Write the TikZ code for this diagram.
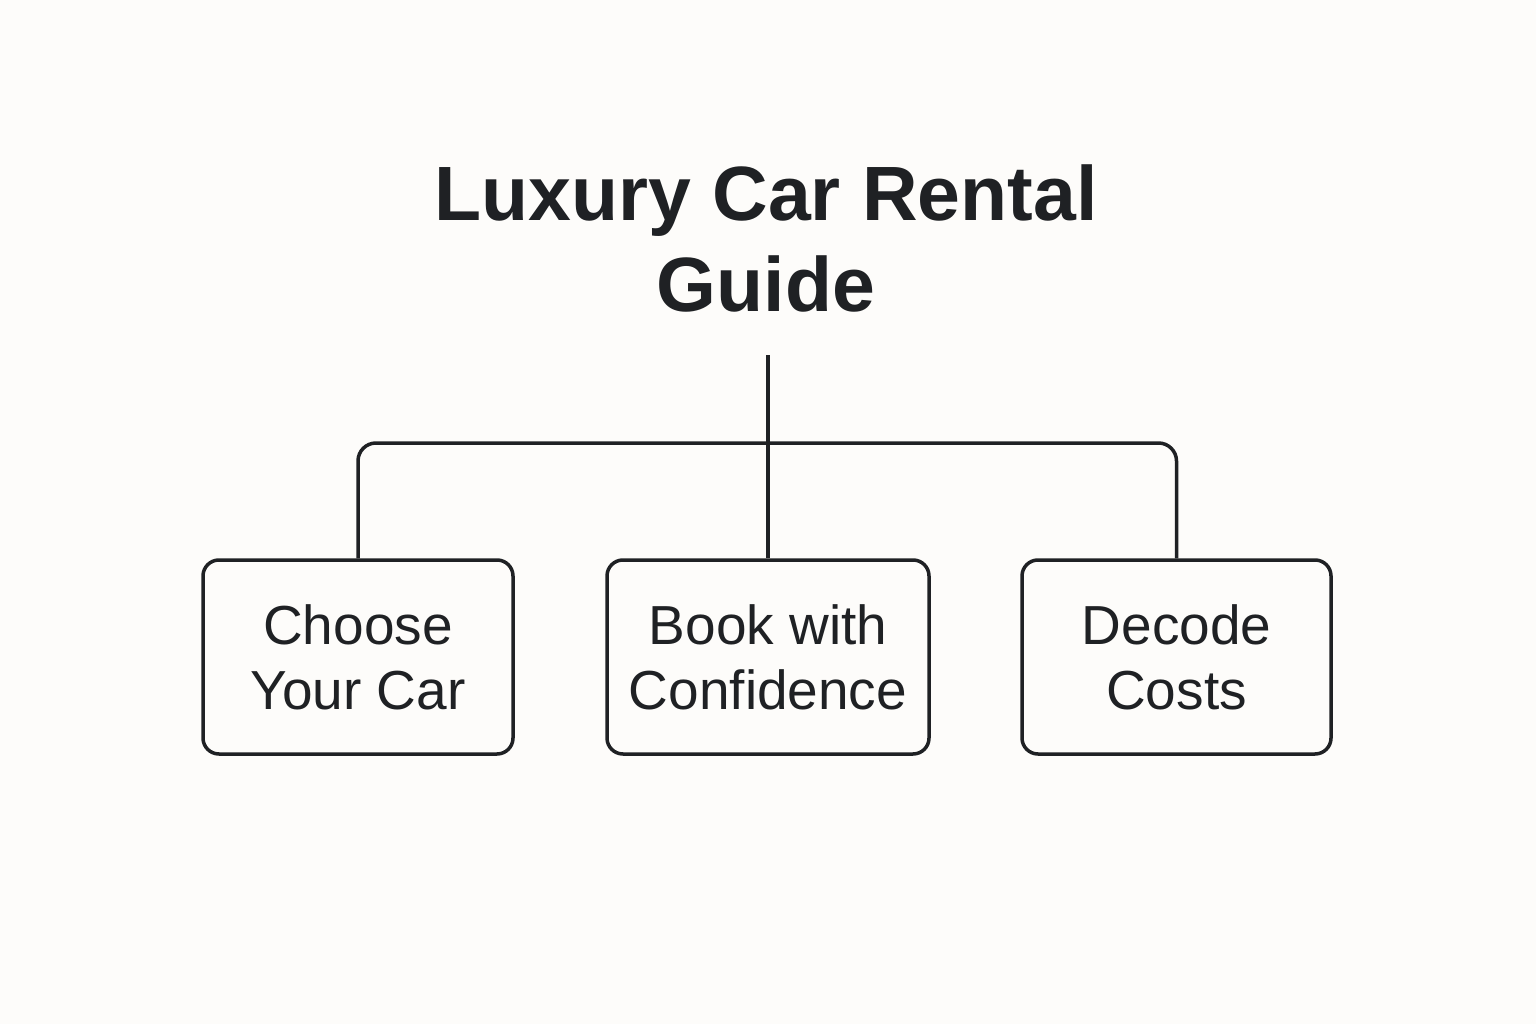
\documentclass[tikz,border=0pt]{standalone}
\usepackage{fontspec}
\setmainfont{Liberation Sans}
\definecolor{bg}{HTML}{FDFCFA}
\definecolor{ink}{HTML}{1F2124}
\begin{document}
\begin{tikzpicture}[x=1pt,y=-1pt,
  box/.style={draw=ink,line width=3.5pt,rounded corners=16pt,minimum width=#1,minimum height=194pt,inner sep=0pt,
    font=\fontsize{55}{65}\selectfont,text=ink,align=center},
  conn/.style={draw=ink,line width=3.5pt}]
\fill[bg] (0,0) rectangle (1536,1024);
\useasboundingbox (0,0) rectangle (1536,1024);
\node[font=\bfseries\fontsize{77}{92}\selectfont,text=ink,align=center,anchor=base] (title) at (766,312) {Luxury Car Rental\\Guide};
\node[box=310pt] (b1) at (358,657) {Choose\\Your Car};
\node[box=322pt] (b2) at (768,657) {Book with\\Confidence};
\node[box=309pt] (b3) at (1176.5,657) {Decode\\Costs};
\coordinate (top) at (768,355);
\coordinate (hy) at (768,443);
\draw[conn] (top) -- (b2.north);
\draw[conn,rounded corners=18pt] (b1.north) -- (b1.north |- hy) -- (b3.north |- hy) -- (b3.north);
\end{tikzpicture}
\end{document}
